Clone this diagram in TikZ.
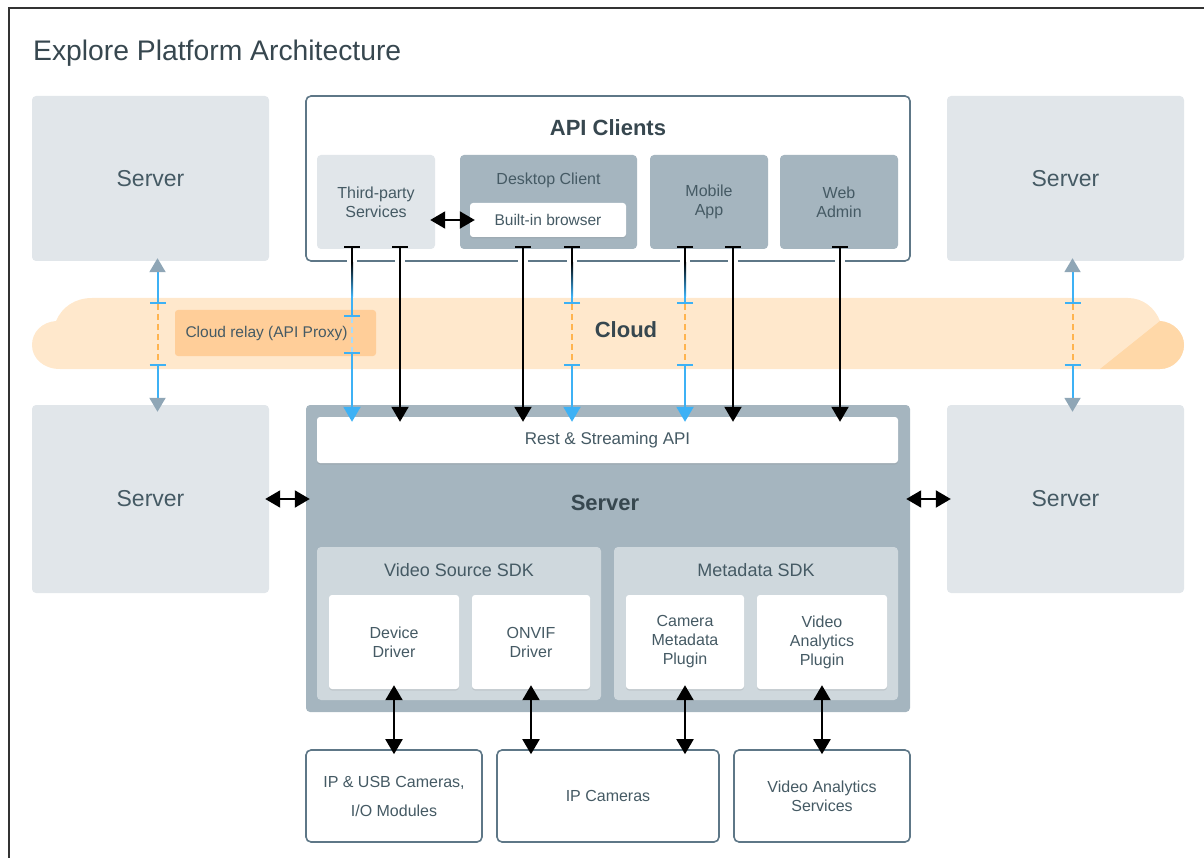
\documentclass[tikz,border=0pt]{standalone}
\usepackage{fontspec}
\setmainfont{Liberation Sans}
\usetikzlibrary{arrows.meta,shadows}
\definecolor{boxgray}{HTML}{E1E6EA}
\definecolor{slate}{HTML}{A5B5BF}
\definecolor{sdkgray}{HTML}{CFD8DD}
\definecolor{edge}{HTML}{5E7787}
\definecolor{ink}{HTML}{37474F}
\definecolor{txt}{HTML}{455A64}
\definecolor{cloudlight}{HTML}{FFE8CC}
\definecolor{clouddark}{HTML}{FFD8A8}
\definecolor{relay}{HTML}{FFCE99}
\definecolor{linkblue}{HTML}{3DB1F5}
\definecolor{tipgray}{HTML}{8FA6B6}
\definecolor{dashorange}{HTML}{FFB44F}
\newcommand{\fs}[2]{\fontsize{#1}{#2}\selectfont}
\newcommand {\down}[2] {\path (#1.south) ++(#2,-3) coordinate (s);
                        \draw[link] (s) -- ([yshift=-5pt]s |- api.north);}
\newcommand {\hop}[5] {\path (#1.south) ++(#2,-3) coordinate (s);
                       \draw[line width=2pt, tbar-] (s) -- ++(0,16);
                       \shade[top color=black, bottom color=linkblue] ([xshift=-1pt,yshift=-16pt]s) rectangle ([xshift=1pt,yshift=-50pt]s);
                       \draw[bluelink, -tbar] ([yshift=-50pt]s) -- (s |- 0,#3);
                       \draw[#5] (s |- 0,#3) -- (s |- 0,#4);
                       \draw[bluelink, tbar->] (s |- 0,#4) -- ([yshift=-5pt]s |- api.north);}
\newcommand {\sidehop}[2] {\draw[bluelink, {Triangle[width=16pt,length=14pt,color=tipgray]}-tbar] ([xshift=7pt,yshift=3pt]#1.south) coordinate (s) -- (s |- 0,304);
                           \draw[dashlink] (s |- 0,304) -- (s |- 0,364);
                           \draw[bluelink, tbar-{Triangle[width=16pt,length=14pt,color=tipgray]}] (s |- 0,364) -- ([yshift=-7pt]s |- #2.north);}

\begin{document}
\begin{tikzpicture}[x=1pt, y=-1pt, >={Triangle[width=17pt,length=15pt]},
    tbar/.tip={Bar[width=16pt]},
    every node/.style={inner sep=0pt, align=center, text=txt},
    small/.style={font=\fs{16}{19}},
    srvbox/.style={fill=boxgray, rounded corners=4pt, minimum width=237pt, font=\fs{23}{27}},
    frame/.style={draw=edge, line width=1.6pt, fill=white, rounded corners=5pt, small},
    client/.style={fill=slate, rounded corners=4pt, minimum width=118pt, minimum height=94pt, small},
    sdk/.style={fill=sdkgray, rounded corners=4pt, minimum width=284pt, minimum height=153pt},
    card/.style={fill=white, rounded corners=3pt, small, drop shadow={opacity=0.18, shadow xshift=0pt, shadow yshift=-1.5pt}},
    head/.style={font=\fs{22}{26}\bfseries, text=ink},
    link/.style={line width=2pt, tbar->},
    bluelink/.style={draw=linkblue, line width=2pt},
    dashlink/.style={draw=dashorange, line width=2pt, dash pattern=on 6pt off 4pt},
    relaydash/.style={draw=linkblue!45, line width=2pt, dash pattern=on 6pt off 4pt},
    dbl/.style={line width=2pt, <->}]
    \useasboundingbox (0,0) rectangle (1204,858);
    \draw[line width=1.5pt, color=black!80] (9,858) -- (9,8) -- (1204,8);
    \node[font=\fs{28.3}{33}, text=ink, anchor=base west] (title) at (33,61) {Explore Platform Architecture};

    % servers around
    \node[srvbox, minimum height=165pt] (lst) at (150.5,178.5) {Server};
    \node[srvbox, minimum height=188pt] (lsb) at (150.5,499) {Server};
    \node[srvbox, minimum height=165pt] (rst) at (1065.5,178.5) {Server};
    \node[srvbox, minimum height=188pt] (rsb) at (1065.5,499) {Server};

    % cloud
    \fill[cloudlight] (60,369) .. controls (43,369) and (32,358) .. (32,345) .. controls (32,332) and (42,322) .. (56,321)
        .. controls (62,307) and (75,298) .. (92,298) -- (1128,298) .. controls (1143,298) and (1155,308) .. (1160,321)
        .. controls (1174,322) and (1184,333) .. (1184,345) .. controls (1184,358) and (1173,369) .. (1160,369) -- cycle;
    \fill[clouddark] (1100,369) -- (1160,321) .. controls (1174,322) and (1184,333) .. (1184,345)
        .. controls (1184,358) and (1173,369) .. (1160,369) -- cycle;
    \node[head] (cloud) at (626,330) {Cloud};
    \node[fill=relay, rounded corners=3pt, minimum width=201pt, minimum height=46pt] (proxy) at (275.5,333) {};
    \node[small, font=\fs{15.5}{19}] (proxytext) at ([xshift=-9pt]proxy.center) {Cloud relay (API Proxy)};

    % clients
    \node[frame, minimum width=604pt, minimum height=165pt] (clients) at (608,178.5) {};
    \node[head] (clientstext) at (608,128) {API Clients};
    \node[client, fill=boxgray] (tps) at (376,202) {Third-party\\Services};
    \node[client, minimum width=177pt] (desk) at (548.5,202) {};
    \node[small] (desktext) at (548.5,180) {Desktop Client};
    \node[card, minimum width=156pt, minimum height=34pt, font=\fs{15.5}{19}] (browser) at (548,220) {Built-in browser};
    \node[client] (mob) at (709,202) {Mobile\\App};
    \node[client] (web) at (839,202) {Web\\Admin};
    \foreach \x in {352,400,523,572,685,733,840}
        \fill[white] (\x-5,258) rectangle (\x+5,264);

    % main server
    \node[fill=slate, rounded corners=4pt, minimum width=604pt, minimum height=307pt] (srv) at (608,558.5) {};
    \node[card, minimum width=581pt, minimum height=46pt, font=\fs{17}{20}] (api) at (607.5,440) {Rest \& Streaming API};
    \node[head] (srvtext) at (605,503) {Server};
    \node[sdk] (vsdk) at (459,623.5) {};
    \node[font=\fs{18}{22}] (vsdktext) at (459,570) {Video Source SDK};
    \node[sdk] (msdk) at (756,623.5) {};
    \node[font=\fs{18}{22}] (msdktext) at (756,570) {Metadata SDK};
    \node[card, minimum width=130pt, minimum height=94pt] (dev) at (394,642) {Device\\Driver};
    \node[card, minimum width=118pt, minimum height=94pt] (onvif) at (531,642) {ONVIF\\Driver};
    \node[card, minimum width=118pt, minimum height=94pt] (cmp) at (685,642) {Camera\\Metadata\\Plugin};
    \node[card, minimum width=130pt, minimum height=94pt] (vap) at (822,642) {Video\\Analytics\\Plugin};

    % devices
    \node[frame, minimum width=176pt, minimum height=92pt, font=\fs{16}{29}] (iousb) at (394,796) {IP \& USB Cameras,\\I/O Modules};
    \node[frame, minimum width=222pt, minimum height=92pt] (ipcam) at (608,796) {IP Cameras};
    \node[frame, minimum width=176pt, minimum height=92pt] (vas) at (822,796) {Video Analytics\\Services};

    % links
    \down{tps}{24}
    \down{desk}{-25.5}
    \down{mob}{24}
    \down{web}{1}
    \hop{tps}{-24}{317}{352}{relaydash}
    \hop{desk}{23.5}{304}{364}{dashlink}
    \hop{mob}{-24}{304}{364}{dashlink}
    \sidehop{lst}{lsb}
    \sidehop{rst}{rsb}
    \draw[dbl] ([xshift=-5pt]tps.east |- browser.west) -- ([xshift=5pt]browser.west);
    \draw[dbl] ([xshift=-4pt]lsb.east) -- ([xshift=4pt]srv.west |- lsb.east);
    \draw[dbl] ([xshift=-4pt]srv.east |- rsb.west) -- ([xshift=4pt]rsb.west);
    \draw[dbl] ([yshift=4pt]dev.south) -- ([yshift=-5pt]dev.south |- iousb.north);
    \draw[dbl] ([yshift=4pt]onvif.south) -- ([yshift=-5pt]onvif.south |- ipcam.north);
    \draw[dbl] ([yshift=4pt]cmp.south) -- ([yshift=-5pt]cmp.south |- ipcam.north);
    \draw[dbl] ([yshift=4pt]vap.south) -- ([yshift=-5pt]vap.south |- vas.north);
\end{tikzpicture}
\end{document}
